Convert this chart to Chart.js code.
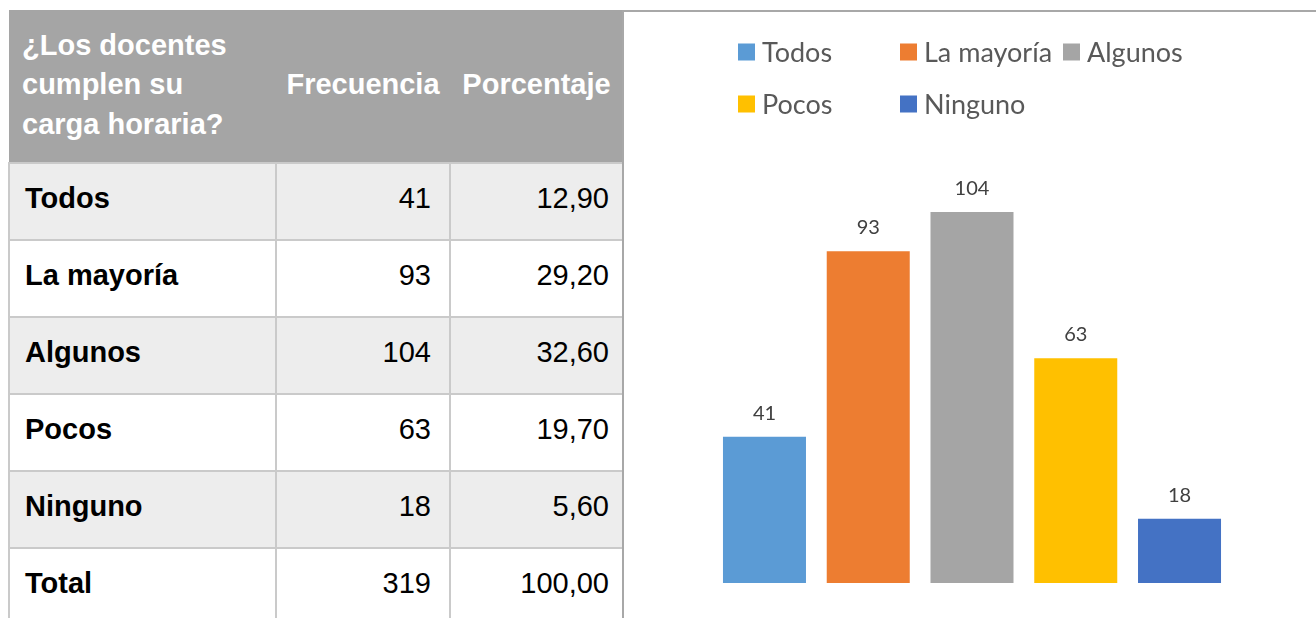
<!DOCTYPE html>
<html>
<head>
<meta charset="utf-8">
<script src="https://cdn.jsdelivr.net/npm/chart.js@4/dist/chart.umd.min.js"></script>
<style>
  html, body { margin: 0; padding: 0; background: #fff; width: 1316px; height: 618px; overflow: hidden; position: relative; }
  #tbl { position: absolute; left: 8px; top: 10px; border-collapse: collapse; table-layout: fixed; font-family: "Liberation Sans", Arial, sans-serif; font-size: 29px; }
  #tbl th { background: #A5A5A5; color: #fff; font-weight: bold; height: 153px; padding: 0; line-height: 39.5px; border: none; box-sizing: border-box; }
  #tbl th.c0 { text-align: left; padding-left: 13px; padding-bottom: 2px; }
  #tbl th.cn { text-align: center; padding-bottom: 2px; }
  #tbl td { height: 77px; border: 2px solid #CACACA; padding: 0 0 6px 0; box-sizing: border-box; color: #000; }
  #tbl td.c0 { font-weight: bold; padding-left: 15px; text-align: left; }
  #tbl td.c1 { text-align: right; padding-right: 18px; }
  #tbl td.c2 { text-align: right; padding-right: 13px; }
  #tbl tr.alt td { background: #EDEDED; }
  #frame { position: absolute; left: 622px; top: 10px; width: 700px; height: 620px; border-top: 2px solid #A8A8A8; border-left: 2px solid #A8A8A8; box-sizing: border-box; }
  #wrap { position: absolute; left: 624px; top: 12px; width: 692px; height: 606px; }
</style>
</head>
<body>
<table id="tbl">
  <colgroup><col style="width:267px"><col style="width:174px"><col style="width:173px"></colgroup>
  <thead><tr id="hdr"></tr></thead>
  <tbody id="tb"></tbody>
</table>
<div id="frame"></div>
<div id="wrap"><canvas id="c"></canvas></div>
<script>
// ---- data ----
const headers = ['¿Los docentes cumplen su carga horaria?', 'Frecuencia', 'Porcentaje'];
const categories = ['Todos', 'La mayoría', 'Algunos', 'Pocos', 'Ninguno'];
const frecuencia = [41, 93, 104, 63, 18];
const porcentaje = [12.90, 29.20, 32.60, 19.70, 5.60];
const totalLabel = 'Total';
const totalFrecuencia = 319;
const totalPorcentaje = 100.00;
const barColors = ['#5B9BD5', '#ED7D31', '#A5A5A5', '#FFC000', '#4472C4'];

// ---- table ----
const fmt = v => v.toFixed(2).replace('.', ',');
const hdr = document.getElementById('hdr');
headers.forEach((h, i) => {
  const th = document.createElement('th');
  th.className = i === 0 ? 'c0' : 'cn';
  if (i === 0) th.innerHTML = '¿Los docentes<br>cumplen su<br>carga horaria?';
  else th.textContent = h;
  hdr.appendChild(th);
});
const tb = document.getElementById('tb');
const rows = categories.map((c, i) => [c, String(frecuencia[i]), fmt(porcentaje[i])]);
rows.push([totalLabel, String(totalFrecuencia), fmt(totalPorcentaje)]);
rows.forEach((r, i) => {
  const tr = document.createElement('tr');
  if (i % 2 === 0) tr.className = 'alt';
  r.forEach((v, j) => {
    const td = document.createElement('td');
    td.className = 'c' + j;
    td.textContent = v;
    tr.appendChild(td);
  });
  tb.appendChild(tr);
});

// ---- chart ----
const legendGrid = {
  id: 'legendGrid',
  afterDraw(chart) {
    const ctx = chart.ctx;
    const ds = chart.data.datasets[0];
    const colX = [114, 276, 439];
    const rowY = [40, 92];
    const box = 17;
    ctx.save();
    ctx.font = '27px Lato';
    ctx.textBaseline = 'middle';
    ctx.textAlign = 'left';
    chart.data.labels.forEach((lab, i) => {
      const x = colX[i % 3];
      const y = rowY[Math.floor(i / 3)];
      ctx.fillStyle = ds.backgroundColor[i];
      ctx.fillRect(x, y - box / 2, box, box);
      ctx.fillStyle = '#595959';
      ctx.fillText(lab, x + 24, y + 1);
    });
    ctx.restore();
  }
};
const valueLabels = {
  id: 'valueLabels',
  afterDatasetsDraw(chart) {
    const ctx = chart.ctx;
    const meta = chart.getDatasetMeta(0);
    const data = chart.data.datasets[0].data;
    ctx.save();
    ctx.font = '20px Lato';
    ctx.fillStyle = '#404040';
    ctx.textAlign = 'center';
    ctx.textBaseline = 'alphabetic';
    meta.data.forEach((bar, i) => {
      ctx.fillText(String(data[i]), bar.x, bar.y - 17);
    });
    ctx.restore();
  }
};

new Chart(document.getElementById('c'), {
  type: 'bar',
  data: {
    labels: categories,
    datasets: [{
      data: frecuencia,
      backgroundColor: barColors,
      borderWidth: 0,
      barPercentage: 0.8,
      categoryPercentage: 1.0
    }]
  },
  options: {
    responsive: true,
    maintainAspectRatio: false,
    animation: false,
    layout: { padding: { left: 88.6, right: 84.6, top: 143, bottom: 35 } },
    plugins: { legend: { display: false }, tooltip: { enabled: false } },
    scales: {
      x: { display: false },
      y: { display: false, min: 0, max: 120 }
    }
  },
  plugins: [legendGrid, valueLabels]
});
</script>
</body>
</html>
